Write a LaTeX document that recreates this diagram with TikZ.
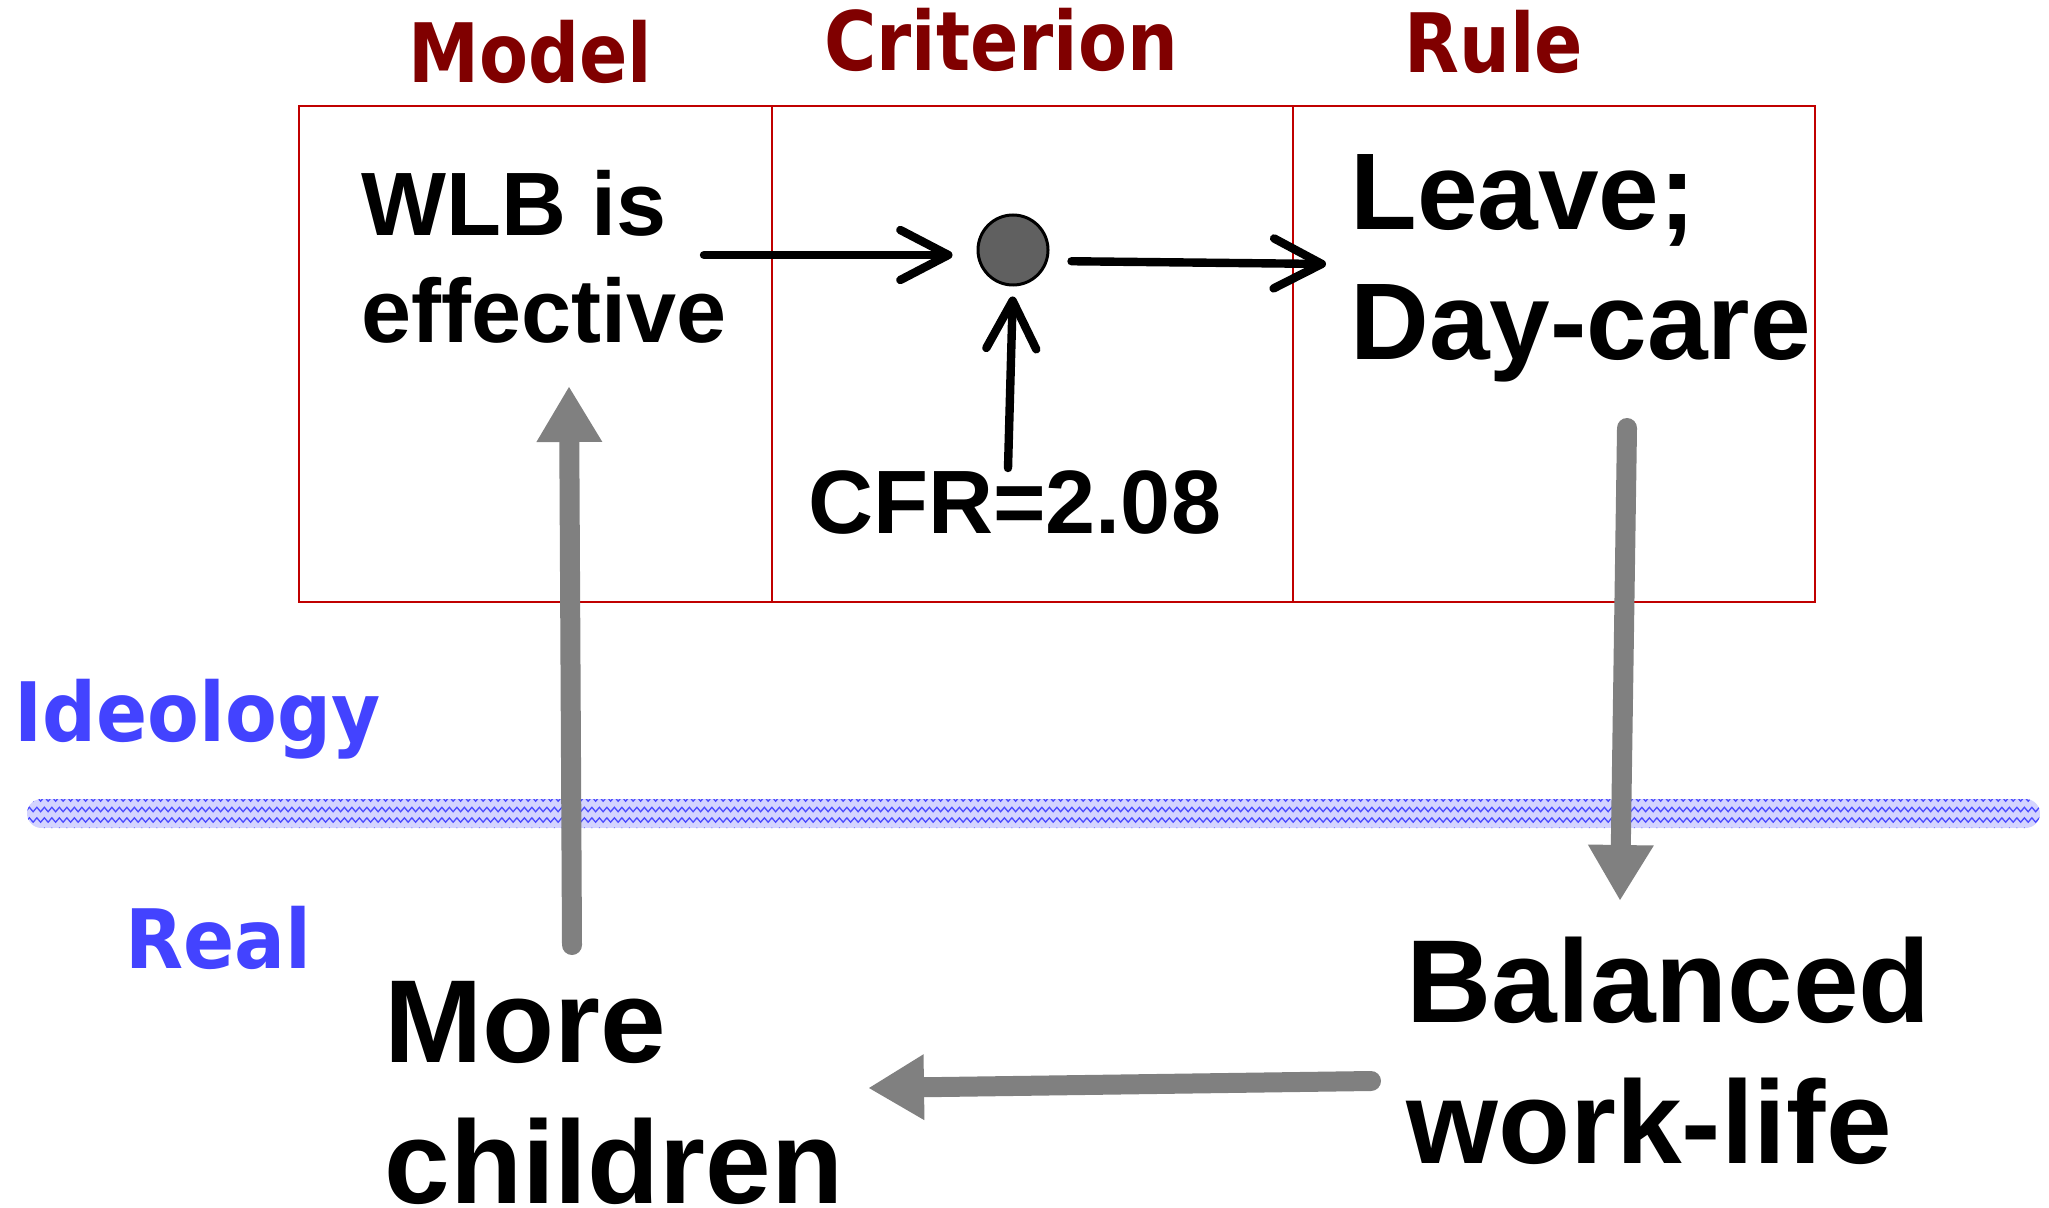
\documentclass[tikz,border=0pt]{standalone}
\usepackage{fontspec}
\setmainfont{Liberation Sans}
\newfontfamily\hdrfont[FakeStretch=0.87]{DejaVu Sans}
\newfontfamily\sidefont[FakeStretch=0.92]{DejaVu Sans}
\usetikzlibrary{arrows.meta,decorations.pathmorphing}
\definecolor{hdrred}{HTML}{800000}
\definecolor{boxred}{HTML}{C00000}
\definecolor{lblblue}{HTML}{4343FF}
\definecolor{bandfill}{HTML}{D4D4FF}
\definecolor{zigblue}{HTML}{4A4AFF}
\definecolor{arrgray}{HTML}{808080}
\definecolor{dotgray}{HTML}{606060}
\begin{document}
\begin{tikzpicture}[x=0.5pt,y=-0.5pt,
  colbox/.style={draw=boxred, line width=1.2pt, minimum height=248pt, inner sep=0pt, anchor=north west},
  hdr/.style={font={\hdrfont\bfseries\fontsize{41pt}{49pt}\selectfont}, text=hdrred, inner sep=0pt, anchor=base},
  side/.style={font={\sidefont\bfseries\fontsize{41pt}{49pt}\selectfont}, text=lblblue, inner sep=0pt, anchor=base west},
  txtmid/.style={font={\bfseries\fontsize{45pt}{53.5pt}\selectfont}, inner sep=0pt, anchor=base west, align=left},
  txtbig/.style={font={\bfseries\fontsize{54.5pt}{65pt}\selectfont}, inner sep=0pt, anchor=base west, align=left},
  txthuge/.style={font={\bfseries\fontsize{59pt}{70.5pt}\selectfont}, inner sep=0pt, anchor=base west, align=left},
  blk/.style={draw=black, line width=4.2pt, line cap=round, -{Straight Barb[length=24pt, width=25pt, round]}},
  gry/.style={draw=arrgray, line width=10pt, line cap=round, -{Triangle[length=27.5pt, width=33pt, line width=0pt]}},
  zig/.style={draw=zigblue, line width=0.65pt, decorate, decoration={zigzag, segment length=3.75pt, amplitude=1.1pt}}
]
\useasboundingbox (0,0) rectangle (2049,1208);

% separation band
\begin{scope}
  \clip[rounded corners=7.25pt] (27,799) rectangle (2040,828);
  \fill[bandfill] (27,799) rectangle (2040,828);
  \foreach \yy in {799,809.5,820,830.5}
    \draw[zig] (20,\yy) -- (2050,\yy);
\end{scope}

% columns
\node[colbox, minimum width=236.5pt] (modelbox) at (298,105) {};
\node[colbox, minimum width=260.5pt] (critbox) at (771,105) {};
\node[colbox, minimum width=261pt] (rulebox) at (1292,105) {};

% headers
\node[hdr] (hmodel) at (530,83) {Model};
\node[hdr] (hcrit) at (1001,71) {Criterion};
\node[hdr] (hrule) at (1494,73) {Rule};

% side labels
\node[side] (ideo) at (14,741) {Ideology};
\node[side] (real) at (125,968) {Real};

% texts (base anchor = baseline of last line)
\node[txtmid] (wlb) at (361,343) {WLB is\\effective};
\node[txtbig] (leave) at (1350,360) {Leave;\\Day-care};
\node[txtmid] (cfr) at (808,533) {CFR=2.08};
\node[txthuge] (more) at (384,1203) {More\\children};
\node[txthuge] (bal) at (1406,1163) {Balanced\\work-life};

% decision point
\node[circle, fill=dotgray, draw=black, line width=1.5pt, minimum size=35pt, inner sep=0pt] (dot) at (1013,250) {};

% coordinates
\coordinate (a1s) at (704,255);
\coordinate (a2e) at (1326,264);
\coordinate (a3s) at (1008,468);
\coordinate (g1s) at (1627,428);
\coordinate (g1e) at (1620,900);
\coordinate (g2s) at (1371,1081);
\coordinate (g2e) at (869,1088);
\coordinate (g3s) at (572,945);
\coordinate (g3e) at (569,387);

% black arrows
\draw[blk, shorten >=12pt] (a1s) -- (a1s -| dot.west);
\draw[blk, shorten <=11pt] ([yshift=-5.5pt]dot.east) -- (a2e);
\draw[blk, shorten >=5pt] (a3s) -- (dot.south);

% gray arrows
\draw[gry] (g1s) -- (g1e);
\draw[gry] (g2s) -- (g2e);
\draw[gry] (g3s) -- (g3e);
\end{tikzpicture}
\end{document}
